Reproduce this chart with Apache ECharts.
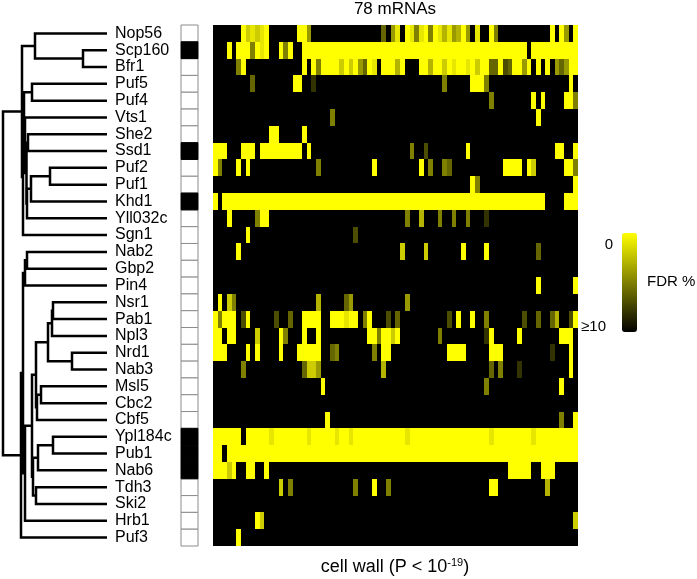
<!DOCTYPE html>
<html><head><meta charset="utf-8">
<script src="https://cdn.jsdelivr.net/npm/echarts@6/dist/echarts.min.js"></script>
<style>html,body{margin:0;padding:0;background:#fff}#c{width:697px;height:579px}</style>
</head><body><div id="c"></div>
<script>
// ---- data ----
const proteins = ['Nop56','Scp160','Bfr1','Puf5','Puf4','Vts1','She2','Ssd1','Puf2','Puf1','Khd1','Yll032c','Sgn1','Nab2','Gbp2','Pin4','Nsr1','Pab1','Npl3','Nrd1','Nab3','Msl5','Cbc2','Cbf5','Ypl184c','Pub1','Nab6','Tdh3','Ski2','Hrb1','Puf3'];
const sideMarks = [0,1,0,0,0,0,0,1,0,0,1,0,0,0,0,0,0,0,0,0,0,0,0,0,1,1,1,0,0,0,0];
const mrnaCount = 78;
const fdrMax = 10; // cells not listed below are >= 10 % FDR
// per protein: [firstCol, lastCol, FDR %]
const fdrSpans = [
 [[6,6,0],[7,7,2],[8,8,1],[9,9,2],[10,10,1],[11,11,0],[18,19,0],[20,20,4],[36,36,6],[38,38,4],[39,39,1],[41,41,0],[42,42,1],[43,43,5],[44,44,1],[45,45,0],[46,46,5],[47,47,0],[48,48,1],[49,49,3],[50,50,1],[51,51,4],[52,52,3],[53,53,0],[54,54,4],[56,56,1],[59,59,0],[60,60,5],[72,72,0],[74,74,0],[75,75,4],[77,77,0]],
 [[3,3,0],[5,7,0],[8,8,5],[9,9,0],[10,10,1],[11,11,0],[14,14,0],[15,15,5],[16,16,0],[19,66,0],[68,77,0]],
 [[5,5,5],[6,6,0],[19,19,0],[21,21,0],[22,22,5],[23,26,0],[27,27,2],[28,28,0],[29,29,2],[30,30,0],[31,31,4],[32,32,6],[33,33,0],[34,34,1],[36,38,0],[39,39,3],[40,40,0],[44,45,0],[46,46,3],[47,48,0],[49,49,2],[50,50,0],[51,51,1],[52,53,0],[54,54,1],[55,55,0],[56,56,2],[57,58,0],[59,60,6],[61,61,0],[62,62,7],[63,63,6],[64,65,0],[66,66,4],[67,67,0],[69,69,0],[71,71,0],[73,73,4],[74,74,6],[75,75,4],[76,77,0]],
 [[8,8,6],[17,18,0],[21,21,8],[49,49,5],[55,57,0],[58,58,5],[76,76,0]],
 [[59,59,5],[68,68,0],[70,70,0],[75,76,0],[77,77,5]],
 [[25,25,5],[69,69,0]],
 [[12,13,0],[19,19,0]],
 [[0,2,0],[6,8,0],[10,18,0],[20,20,0],[42,42,5],[45,45,7],[54,54,0],[73,74,0],[77,77,0]],
 [[0,0,0],[1,1,5],[5,5,0],[7,7,0],[22,22,5],[34,34,0],[44,44,0],[46,46,5],[49,49,5],[50,50,6],[62,65,0],[67,67,0],[68,68,2],[75,76,0],[77,77,5]],
 [[55,55,0],[56,56,5],[77,77,0]],
 [[0,0,0],[2,70,0],[75,77,0]],
 [[3,3,0],[9,9,5],[10,11,0],[41,41,5],[44,44,3],[48,48,5],[51,51,5],[54,54,5],[58,58,8]],
 [[7,7,0],[30,30,7]],
 [[5,5,0],[40,40,2],[45,45,2],[53,53,0],[58,58,0],[69,69,6]],
 [],
 [[69,69,0],[77,77,0]],
 [[1,1,0],[3,3,2],[4,4,5],[22,22,3],[28,28,6],[29,29,4],[41,41,4]],
 [[0,0,0],[1,1,5],[2,4,0],[6,6,7],[7,7,0],[13,13,7],[16,16,6],[19,22,0],[25,27,0],[28,28,1],[29,30,0],[32,32,5],[33,33,0],[37,37,7],[39,39,6],[50,50,7],[52,52,0],[55,55,0],[58,58,5],[66,66,7],[69,69,6],[72,72,6],[73,73,3],[76,76,7],[77,77,0]],
 [[0,1,0],[3,4,0],[9,9,2],[14,14,0],[15,15,5],[19,19,0],[22,22,0],[33,34,0],[35,35,5],[36,37,0],[38,38,2],[39,39,0],[48,48,5],[58,58,8],[59,59,0],[65,65,0],[74,76,0]],
 [[0,2,0],[7,7,0],[9,9,0],[14,14,0],[18,22,0],[25,25,6],[26,26,5],[34,34,5],[36,37,0],[50,53,0],[59,61,0],[72,72,8],[76,76,0]],
 [[6,6,5],[19,19,6],[20,21,2],[22,22,4],[36,36,3],[59,59,6],[61,61,5],[65,65,8],[76,76,0]],
 [[23,23,0],[58,58,5],[74,74,0]],
 [],
 [[24,24,0],[74,74,5],[77,77,0]],
 [[0,5,0],[7,77,0],[12,12,1],[20,20,1],[26,26,1],[29,29,1],[41,41,1],[59,59,1],[68,68,1]],
 [[0,1,0],[3,77,0]],
 [[0,2,0],[3,3,2],[4,4,0],[7,8,0],[11,11,0],[63,67,0],[70,72,0]],
 [[14,14,2],[16,16,5],[30,30,5],[34,34,0],[37,37,5],[59,60,0],[71,71,3]],
 [],
 [[9,9,0],[10,10,2],[77,77,2]],
 [[5,5,0]]
];
// dendrogram merges: [left, right, distance]; 'nK' = K-th merge
const merges = [
 ['Scp160','Bfr1',24],['Nop56','n0',72],['Puf5','Puf4',75],['Puf2','Puf1',57],['n3','Khd1',76],
 ['She2','Ssd1',79],['n4','Yll032c',80],['n5','n6',80.5],['Vts1','n7',82],['n2','n8',83],
 ['n9','Sgn1',84],['n1','n10',85],['Nab2','Gbp2',80],['n12','Pin4',82],['Nsr1','Pab1',54],
 ['n14','Npl3',55],['Nrd1','Nab3',35],['n15','n16',59],['Msl5','Cbc2',66],['n18','Cbf5',70],
 ['n17','n19',71],['Ypl184c','Pub1',54],['n21','Nab6',69],['Tdh3','Ski2',71],['n22','n23',74],
 ['n20','n24',75],['n25','Hrb1',82],['n13','n26',84],['n27','Puf3',86],['n11','n28',104]
];

// ---- build ----
const FONT = '"Liberation Sans", Arial, Helvetica, sans-serif';
const cols = Array.from({length: mrnaCount}, (_, i) => String(i));
const heat = [];
proteins.forEach((p, r) => {
  const row = new Array(mrnaCount).fill(fdrMax);
  fdrSpans[r].forEach(([a, b, v]) => { for (let c = a; c <= b; c++) row[c] = v; });
  row.forEach((v, c) => heat.push([c, r, v]));
});
const nodes = {};
proteins.forEach((p, i) => nodes[p] = {h: 0, y: i});
const dendro = merges.map((m, k) => {
  const a = nodes[m[0]], b = nodes[m[1]];
  nodes['n' + k] = {h: m[2], y: (a.y + b.y) / 2};
  return [a.h, a.y, b.h, b.y, m[2]];
});
const boxes = proteins.map((p, i) => [0, i, sideMarks[i]]);

const TOP = 25, H = 521;
const chart = echarts.init(document.getElementById('c'), null, {renderer: 'canvas'});
chart.setOption({
  animation: false,
  textStyle: {fontFamily: FONT},
  grid: [
    {left: 0, top: TOP, width: 107, height: H},
    {left: 181, top: TOP, width: 17, height: H},
    {left: 213, top: TOP, width: 365, height: H}
  ],
  xAxis: [
    {gridIndex: 0, type: 'value', min: 0, max: 107, inverse: true, show: false},
    {gridIndex: 1, type: 'category', data: ['m'], show: false},
    {gridIndex: 2, type: 'category', data: cols, show: false}
  ],
  yAxis: [
    {gridIndex: 0, type: 'value', min: -0.5, max: proteins.length - 0.5, inverse: true, show: false},
    {gridIndex: 1, type: 'category', data: proteins, inverse: true,
     axisLine: {show: false}, axisTick: {show: false}, splitLine: {show: false},
     axisLabel: {interval: 0, align: 'left', margin: 66, fontSize: 16, color: '#000', fontFamily: FONT}},
    {gridIndex: 2, type: 'category', data: proteins, inverse: true, show: false}
  ],
  visualMap: {
    type: 'continuous', min: 0, max: fdrMax, seriesIndex: 2, dimension: 2, inverse: true,
    orient: 'vertical', left: 622, top: 233, itemWidth: 15, itemHeight: 99,
    padding: 0, calculable: false, hoverLink: false,
    inRange: {color: ['#ffff00', '#000000']}
  },
  series: [
    {type: 'custom', xAxisIndex: 0, yAxisIndex: 0, data: dendro, silent: true,
     encode: {x: [0, 2, 4], y: [1, 3]},
     renderItem: (params, api) => {
       const p1 = api.coord([api.value(0), api.value(1)]);
       const p2 = api.coord([api.value(4), api.value(1)]);
       const p3 = api.coord([api.value(4), api.value(3)]);
       const p4 = api.coord([api.value(2), api.value(3)]);
       return {type: 'polyline', shape: {points: [p1, p2, p3, p4]},
               style: {stroke: '#000', lineWidth: 2.5, fill: null}};
     }},
    {type: 'custom', xAxisIndex: 1, yAxisIndex: 1, data: boxes, silent: true,
     renderItem: (params, api) => {
       const c = api.coord([0, api.value(1)]);
       const s = api.size([1, 1]);
       const on = api.value(2) === 1;
       return {type: 'rect', shape: {x: c[0] - s[0] / 2, y: c[1] - s[1] / 2, width: s[0], height: s[1]},
               style: {fill: on ? '#000' : '#fff', stroke: on ? '#000' : '#8c8c8c', lineWidth: 1},
               z2: on ? 2 : 1};
     }},
    {type: 'custom', xAxisIndex: 2, yAxisIndex: 2, data: heat, silent: true,
     encode: {x: 0, y: 1},
     renderItem: (params, api) => {
       const c = api.coord([api.value(0), api.value(1)]);
       const s = api.size([1, 1]);
       const x0 = Math.round(c[0] - s[0] / 2), x1 = Math.round(c[0] + s[0] / 2);
       const y0 = Math.round(c[1] - s[1] / 2), y1 = Math.round(c[1] + s[1] / 2);
       return {type: 'rect', shape: {x: x0, y: y0, width: x1 - x0, height: y1 - y0},
               style: {fill: api.visual('color')}};
     }}
  ],
  graphic: [
    {type: 'text', x: 395, y: 9, style: {text: '78 mRNAs', fontSize: 17, fontFamily: FONT, fill: '#000', align: 'center', verticalAlign: 'middle'}},
    {type: 'text', x: 613, y: 245, style: {text: '0', fontSize: 15, fontFamily: FONT, fill: '#000', align: 'right', verticalAlign: 'middle'}},
    {type: 'text', x: 606, y: 327, style: {text: '≥10', fontSize: 15, fontFamily: FONT, fill: '#000', align: 'right', verticalAlign: 'middle'}},
    {type: 'text', x: 647, y: 282, style: {text: 'FDR %', fontSize: 15, fontFamily: FONT, fill: '#000', align: 'left', verticalAlign: 'middle'}},
    {type: 'text', x: 395, y: 567, style: {
      text: '{a|cell wall (P < 10}{s|-19}{a|)}', align: 'center', verticalAlign: 'middle',
      rich: {a: {fontSize: 18, fontFamily: FONT, fill: '#000', lineHeight: 19},
             s: {fontSize: 11, fontFamily: FONT, fill: '#000', verticalAlign: 'top', lineHeight: 19}}}}
  ]
});
</script></body></html>
